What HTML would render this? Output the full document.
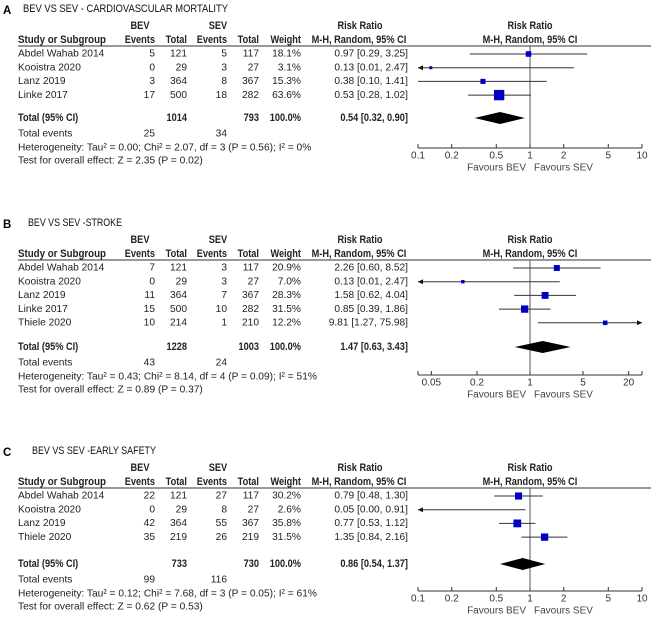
<!DOCTYPE html>
<html><head><meta charset="utf-8"><style>
body{margin:0;background:#fff}
svg{display:block;font-family:"Liberation Sans",Arial,sans-serif}
</style></head><body>
<svg id="c" width="657" height="621" viewBox="0 0 657 621"></svg>
<script>
// Panel A data
const studiesA=["Abdel Wahab 2014","Kooistra 2020","Lanz 2019","Linke 2017"];
const bevEvA=[5,0,3,17], bevTotA=[121,29,364,500], sevEvA=[5,3,8,18], sevTotA=[117,27,367,282];
const weightA=[18.1,3.1,15.3,63.6];
const rrA=[0.97,0.13,0.38,0.53], loA=[0.29,0.01,0.10,0.28], hiA=[3.25,2.47,1.41,1.02];
const totalA={bevTot:1014,sevTot:793,rr:0.54,lo:0.32,hi:0.90,bevEv:25,sevEv:34};
const ticksA=[0.1,0.2,0.5,1,2,5,10];
// Panel B data
const studiesB=["Abdel Wahab 2014","Kooistra 2020","Lanz 2019","Linke 2017","Thiele 2020"];
const bevEvB=[7,0,11,15,10], bevTotB=[121,29,364,500,214], sevEvB=[3,3,7,10,1], sevTotB=[117,27,367,282,210];
const weightB=[20.9,7.0,28.3,31.5,12.2];
const rrB=[2.26,0.13,1.58,0.85,9.81], loB=[0.60,0.01,0.62,0.39,1.27], hiB=[8.52,2.47,4.04,1.86,75.98];
const totalB={bevTot:1228,sevTot:1003,rr:1.47,lo:0.63,hi:3.43,bevEv:43,sevEv:24};
const ticksB=[0.05,0.2,1,5,20];
// Panel C data
const studiesC=["Abdel Wahab 2014","Kooistra 2020","Lanz 2019","Thiele 2020"];
const bevEvC=[22,0,42,35], bevTotC=[121,29,364,219], sevEvC=[27,8,55,26], sevTotC=[117,27,367,219];
const weightC=[30.2,2.6,35.8,31.5];
const rrC=[0.79,0.05,0.77,1.35], loC=[0.48,0.00,0.53,0.84], hiC=[1.30,0.91,1.12,2.16];
const totalC={bevTot:733,sevTot:730,rr:0.86,lo:0.54,hi:1.37,bevEv:99,sevEv:116};
const ticksC=[0.1,0.2,0.5,1,2,5,10];

const svg=document.getElementById('c');const NS='http://www.w3.org/2000/svg';
function el(t,a,p){const e=document.createElementNS(NS,t);for(const k in a)e.setAttribute(k,a[k]);(p||svg).appendChild(e);return e;}
function tx(x,y,s,o){o=o||{};const e=el('text',{x:x,y:y,'font-size':o.fs||(o.b?10.6:10.2),'text-anchor':o.a||'start','dominant-baseline':'middle',fill:o.f||'#222','font-weight':o.b?'bold':'normal'},o.g);e.textContent=s;
  let tl=o.tl;
  if(!tl&&o.b&&!o.nk){try{tl=e.getComputedTextLength()*0.87;}catch(err){}}
  if(tl){e.setAttribute('textLength',tl);e.setAttribute('lengthAdjust','spacingAndGlyphs');}
  return e;}
function f2(v){return v.toFixed(2);}

function panel(cfg){
  const g=el('g',{});
  
  
  const L=cfg.line;
  tx(3,L-35,cfg.letter,{b:1,nk:1,fs:11.5,g:g,f:'#000'});
  tx(cfg.tx,L-37,cfg.title,{g:g,fs:11,f:'#111',tl:cfg.tl});
  tx(140,L-20,'BEV',{b:1,a:'middle',g:g});tx(218,L-20,'SEV',{b:1,a:'middle',g:g});
  tx(360,L-20,'Risk Ratio',{b:1,a:'middle',g:g});tx(530,L-20,'Risk Ratio',{b:1,a:'middle',g:g});
  const hy=L-6;
  tx(18,hy,'Study or Subgroup',{b:1,g:g,tl:88});tx(155,hy,'Events',{b:1,a:'end',g:g});tx(187,hy,'Total',{b:1,a:'end',g:g});
  tx(227,hy,'Events',{b:1,a:'end',g:g});tx(259,hy,'Total',{b:1,a:'end',g:g});tx(301,hy,'Weight',{b:1,a:'end',g:g});
  tx(359,hy,'M-H, Random, 95% CI',{b:1,a:'middle',g:g});tx(530,hy,'M-H, Random, 95% CI',{b:1,a:'middle',g:g});
  el('line',{x1:18,x2:651,y1:L,y2:L,stroke:'#333','stroke-width':1},g);
  const x0=418,x1=642,c=530,half=112,lmax=Math.log10(cfg.max);
  const X=v=>c+Math.log10(Math.max(v,1e-9))/lmax*half;
  const axY=L+cfg.ax;
  el('line',{x1:c,x2:c,y1:L,y2:axY,stroke:'#555','stroke-width':1},g);
  cfg.studies.forEach((s,i)=>{
    const y=L+8+i*13.7;
    const r=el('g',{},g);
    
    
    tx(18,y,s,{g:r});tx(155,y,cfg.be[i],{a:'end',g:r});tx(187,y,cfg.bt[i],{a:'end',g:r});
    tx(227,y,cfg.se[i],{a:'end',g:r});tx(259,y,cfg.st[i],{a:'end',g:r});tx(301,y,cfg.w[i].toFixed(1)+'%',{a:'end',g:r});
    tx(408,y,f2(cfg.rr[i])+' ['+f2(cfg.lo[i])+', '+f2(cfg.hi[i])+']',{a:'end',g:r});
    const lx=Math.max(X(cfg.lo[i]),x0),rx=Math.min(X(cfg.hi[i]),x1);
    const ci=el('line',{x1:lx,x2:rx,y1:y,y2:y,stroke:'#333','stroke-width':1},g);
    
    
    if(X(cfg.lo[i])<x0) el('path',{d:`M${x0},${y} l5,-2.5 v5z`,fill:'#111'},g);
    if(X(cfg.hi[i])>x1) el('path',{d:`M${x1},${y} l-5,-2.5 v5z`,fill:'#111'},g);
    const sx=X(cfg.rr[i]);
    if(sx>=x0&&sx<=x1){
      const sz=Math.max(3,Math.sqrt(cfg.w[i])*1.3);
      const sq=el('rect',{x:sx-sz/2,y:y-sz/2,width:sz,height:sz,fill:'#0000c0'},g);
      
      
    }
  });
  const ty=L+cfg.tot,T=cfg.total;
  tx(18,ty,'Total (95% CI)',{b:1,g:g});tx(187,ty,T.bevTot,{b:1,a:'end',g:g});tx(259,ty,T.sevTot,{b:1,a:'end',g:g});
  tx(301,ty,'100.0%',{b:1,a:'end',g:g});tx(408,ty,f2(T.rr)+' ['+f2(T.lo)+', '+f2(T.hi)+']',{b:1,a:'end',g:g});
  const d=el('path',{d:`M${X(T.lo)},${ty} L${X(T.rr)},${ty-6} L${X(T.hi)},${ty} L${X(T.rr)},${ty+6}Z`,fill:'#000'},g);
  
  
  tx(18,ty+16,'Total events',{g:g});tx(155,ty+16,T.bevEv,{a:'end',g:g});tx(227,ty+16,T.sevEv,{a:'end',g:g});
  tx(18,ty+30,cfg.het,{g:g});tx(18,ty+43,cfg.test,{g:g});
  el('line',{x1:x0,x2:x1,y1:axY,y2:axY,stroke:'#333'},g);
  [x0,x1].forEach(x=>el('line',{x1:x,x2:x,y1:axY-4,y2:axY,stroke:'#333'},g));
  cfg.ticks.forEach(t=>{const x=X(t);el('line',{x1:x,x2:x,y1:axY-4,y2:axY,stroke:'#333'},g);
    const lb=tx(x,axY+8,String(t),{a:'middle',fs:10,g:g,f:'#333'});
    
    });
  tx(526,axY+20,'Favours BEV',{a:'end',fs:10,g:g,f:'#444'});tx(534,axY+20,'Favours SEV',{fs:10,g:g,f:'#444'});
}
panel({letter:'A',title:'BEV VS SEV - CARDIOVASCULAR MORTALITY',tx:23,tl:205,line:46,ax:102,tot:72,max:10,studies:studiesA,be:bevEvA,bt:bevTotA,se:sevEvA,st:sevTotA,w:weightA,rr:rrA,lo:loA,hi:hiA,total:totalA,ticks:ticksA,
 het:'Heterogeneity: Tau² = 0.00; Chi² = 2.07, df = 3 (P = 0.56); I² = 0%',test:'Test for overall effect: Z = 2.35 (P = 0.02)'});
panel({letter:'B',title:'BEV VS SEV -STROKE',tx:28,tl:94,line:260,ax:115,tot:87,max:30,studies:studiesB,be:bevEvB,bt:bevTotB,se:sevEvB,st:sevTotB,w:weightB,rr:rrB,lo:loB,hi:hiB,total:totalB,ticks:ticksB,
 het:'Heterogeneity: Tau² = 0.43; Chi² = 8.14, df = 4 (P = 0.09); I² = 51%',test:'Test for overall effect: Z = 0.89 (P = 0.37)'});
panel({letter:'C',title:'BEV VS SEV -EARLY SAFETY',tx:32,tl:124,line:488,ax:103,tot:76,max:10,studies:studiesC,be:bevEvC,bt:bevTotC,se:sevEvC,st:sevTotC,w:weightC,rr:rrC,lo:loC,hi:hiC,total:totalC,ticks:ticksC,
 het:'Heterogeneity: Tau² = 0.12; Chi² = 7.68, df = 3 (P = 0.05); I² = 61%',test:'Test for overall effect: Z = 0.62 (P = 0.53)'});
</script>
</body></html>
